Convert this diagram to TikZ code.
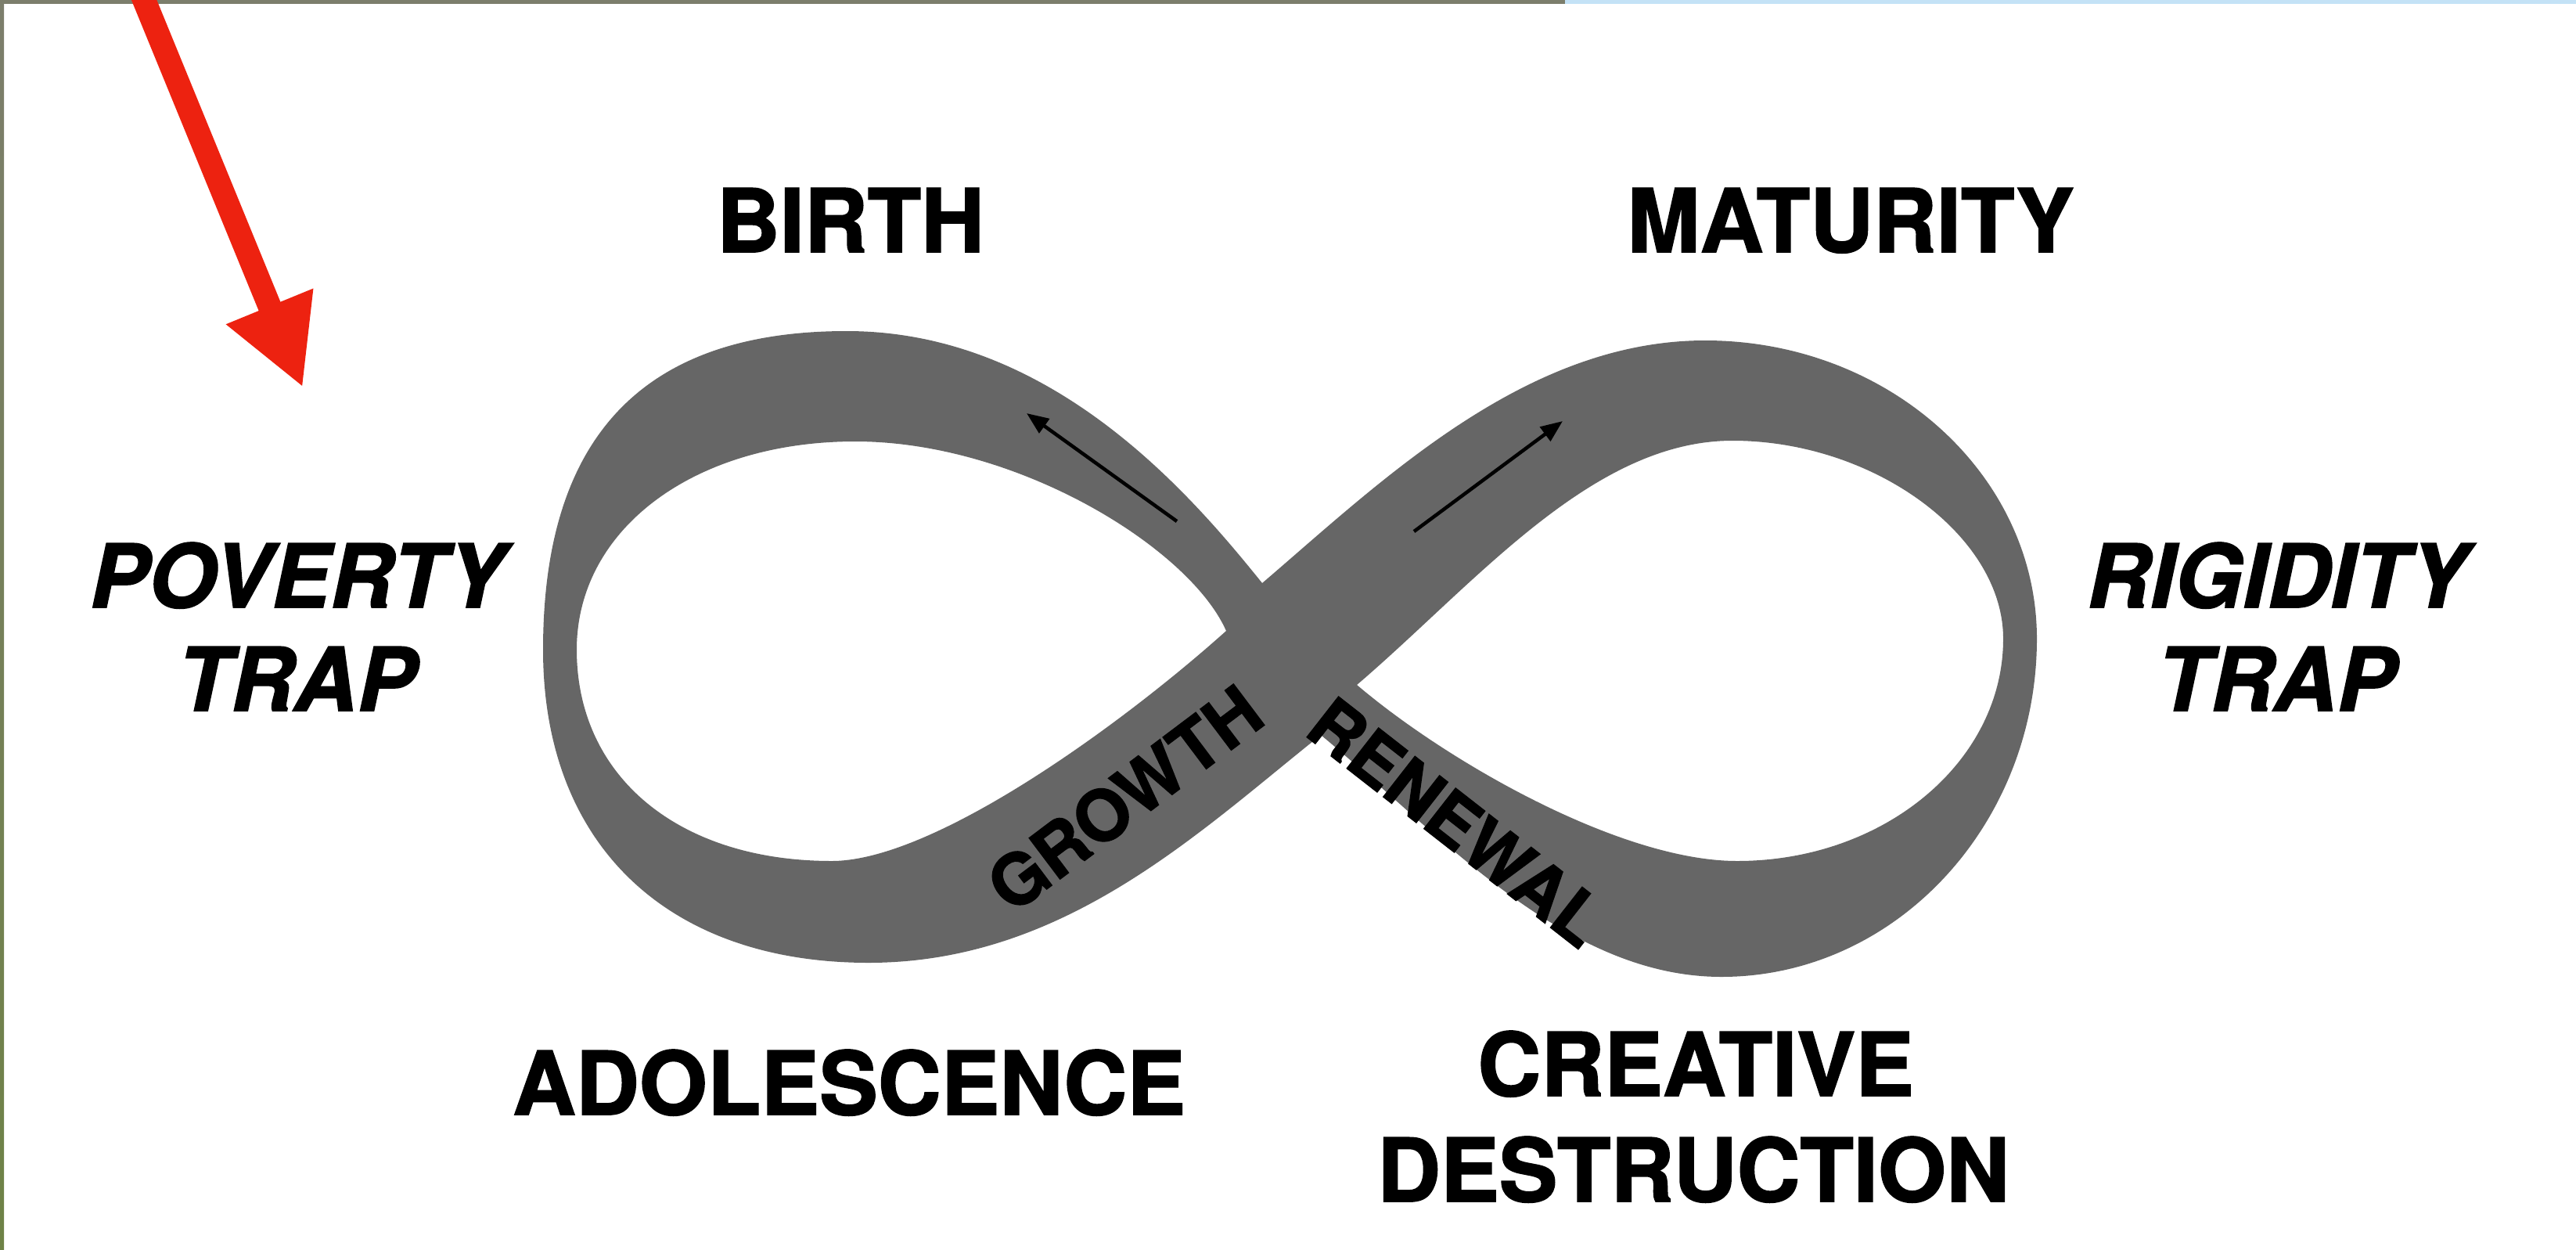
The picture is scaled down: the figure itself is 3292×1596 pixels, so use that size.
\documentclass[tikz,border=0pt]{standalone}
\usepackage{fontspec}
\setmainfont{TeX Gyre Heros}[BoldFeatures={FakeBold=1.6}, BoldItalicFeatures={FakeBold=1.6}]
\usetikzlibrary{arrows.meta}
\definecolor{bandgray}{RGB}{102,102,102}
\definecolor{redarr}{RGB}{237,34,16}
\definecolor{photoa}{RGB}{124,126,108}
\definecolor{photob}{RGB}{196,226,246}
\definecolor{photoc}{RGB}{200,190,60}
\definecolor{photod}{RGB}{110,130,70}
\begin{document}
\begin{tikzpicture}[x=0.5pt,y=-0.5pt,
  lbl/.style={font=\fontsize{56}{67}\selectfont\bfseries, inner sep=0pt, anchor=base},
  ilbl/.style={font=\fontsize{56}{67}\selectfont\bfseries\itshape, inner sep=0pt, anchor=base},
  blbl/.style={font=\fontsize{45}{54}\selectfont\bfseries, inner sep=0pt, anchor=center},
  flow/.style={line width=2.25pt, -{Triangle[length=14pt,width=11pt]}},
  redarrow/.style={draw=redarr, line width=15pt, -{Triangle[length=56pt,width=56pt]}}
]
\useasboundingbox (0,0) rectangle (3292,1596);
\clip (0,0) rectangle (3292,1596);
\fill[white] (0,0) rectangle (3292,1596);
% thin photo edges
\fill[photoa] (0,0) rectangle (2000,5);
\fill[photob] (2000,0) rectangle (3292,5);
\shade[top color=photoa, middle color=photoc, bottom color=photod] (0,0) rectangle (5,1596);

% figure-eight band: outer outline and two holes
\fill[bandgray, even odd rule]
  (1613,745) .. controls (1519,628) and (1342,423) .. (1082,423)
  .. controls (820,423) and (694,560) .. (694,830)
  .. controls (694,1078) and (852,1230) .. (1110,1230)
  .. controls (1360,1230) and (1532,1063) .. (1688,939)
  .. controls (1842,1067) and (2000,1248) .. (2200,1248)
  .. controls (2422,1248) and (2603,1054) .. (2603,816)
  .. controls (2603,606) and (2413,435) .. (2179,435)
  .. controls (1949,435) and (1765,615) .. (1613,745) -- cycle
  (1567,806) .. controls (1520,700) and (1300,564) .. (1093,564)
  .. controls (887,564) and (737,676) .. (737,830)
  .. controls (737,992) and (867,1100) .. (1063,1100)
  .. controls (1193,1100) and (1432,927) .. (1567,806) -- cycle
  (1734,875) .. controls (1886,745) and (2034,563) .. (2214,563)
  .. controls (2394,563) and (2560,684) .. (2560,816)
  .. controls (2560,973) and (2408,1100) .. (2220,1100)
  .. controls (2070,1100) and (1848,972) .. (1734,875) -- cycle;

% direction arrows on the band
\coordinate (la0) at (1504,666);
\coordinate (la1) at (1312,528);
\coordinate (ra0) at (1807,679);
\coordinate (ra1) at (1997,538);
\draw[flow] (la0) -- (la1);
\draw[flow] (ra0) -- (ra1);

% red arrow
\coordinate (redstart) at (178,-15);
\coordinate (redtip) at (387,495);
\draw[redarrow] (redstart) -- (redtip);

% labels
\node[lbl] (birth) at (1087,322) {BIRTH};
\node[lbl] (maturity) at (2365,322) {MATURITY};
\node[ilbl] (poverty1) at (380,776) {POVERTY};
\node[ilbl] (poverty2) at (379,908) {TRAP};
\node[ilbl] (rigidity1) at (2910,776) {RIGIDITY};
\node[ilbl] (rigidity2) at (2909,908) {TRAP};
\node[lbl] (adolescence) at (1085,1424) {ADOLESCENCE};
\node[lbl] (creative1) at (2167,1400) {CREATIVE};
\node[lbl] (creative2) at (2164,1535) {DESTRUCTION};
\node[blbl, rotate=37] (growth) at (1437,1020) {GROWTH};
\node[blbl, rotate=-38] (renewal) at (1862,1050) {RENEWAL};
\end{tikzpicture}
\end{document}
